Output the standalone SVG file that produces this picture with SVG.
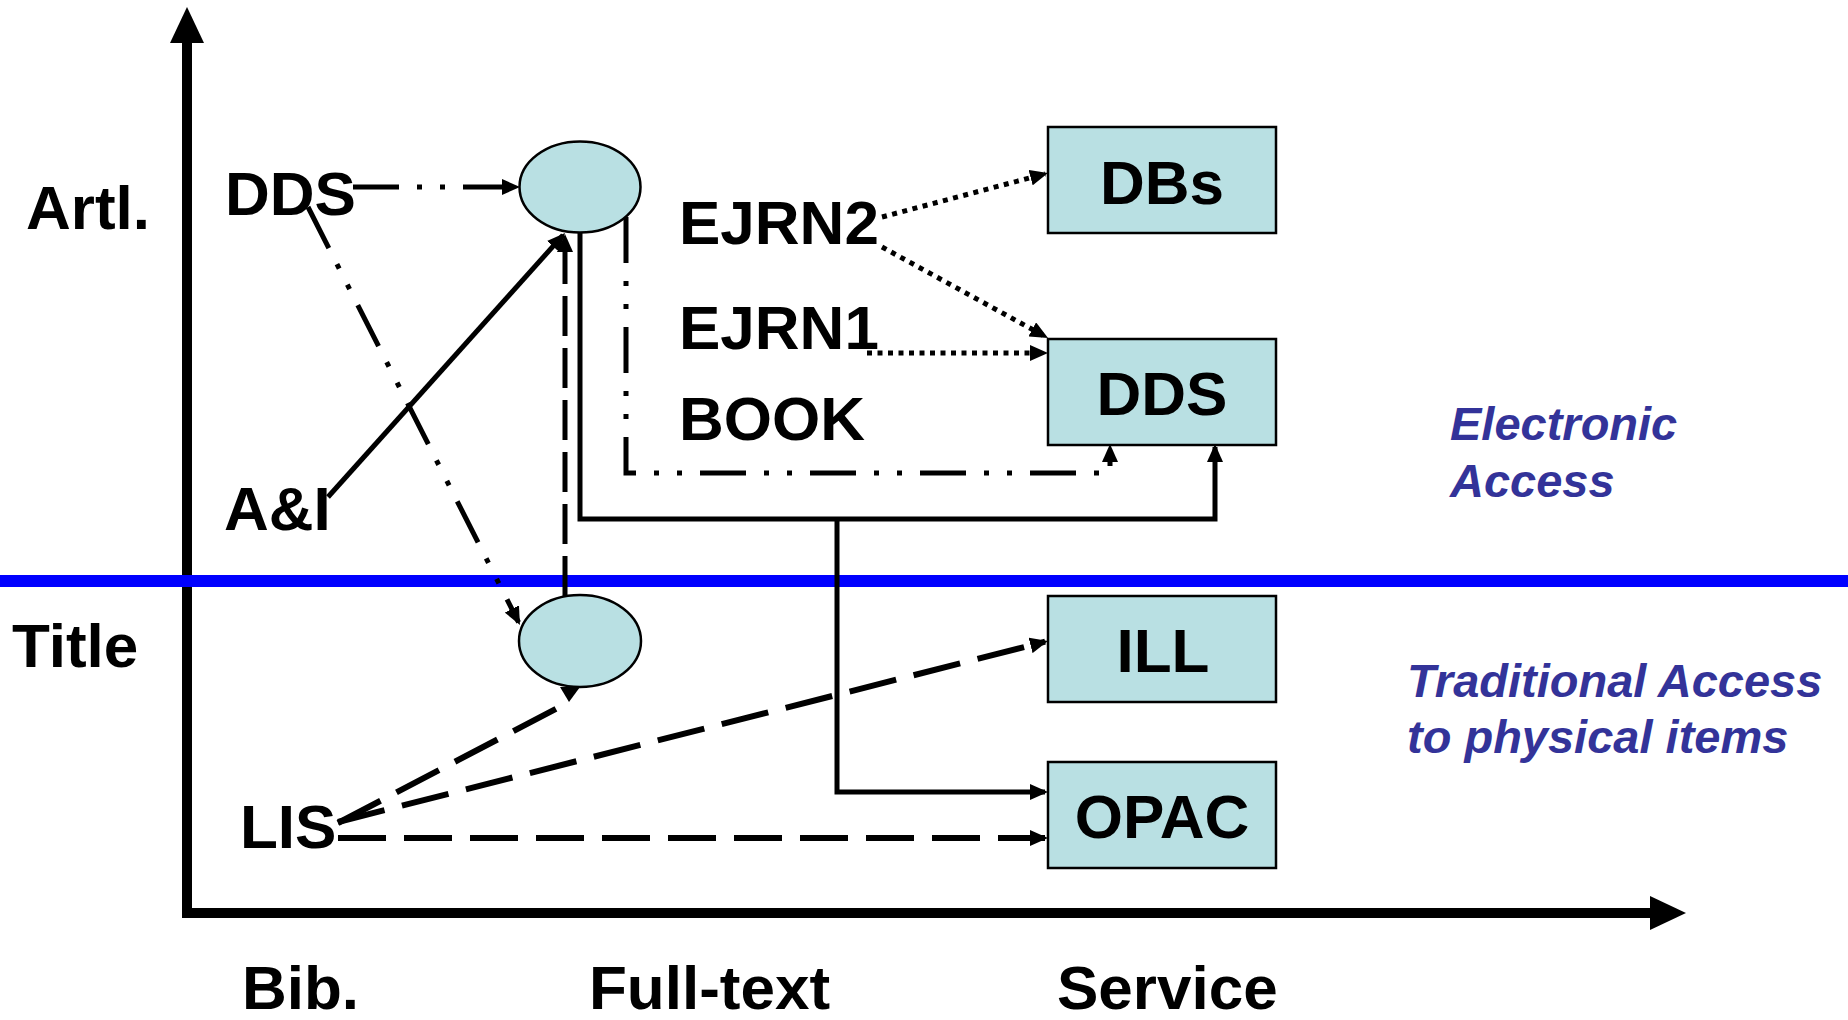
<svg xmlns="http://www.w3.org/2000/svg" width="1848" height="1020" viewBox="0 0 1848 1020">
<style>
.lbl{font-family:"Liberation Sans",Arial,sans-serif;font-weight:bold;font-size:62px;fill:#000}
.blue{font-family:"Liberation Sans",Arial,sans-serif;font-weight:bold;font-style:italic;font-size:47px;fill:#333399}
.node{fill:#B9E0E3;stroke:#000;stroke-width:2.5}
.c{fill:none;stroke:#000;stroke-width:5;stroke-linecap:butt;stroke-linejoin:miter}
.solid{}
.ddd{stroke-dasharray:46 18 5 18 5 18}
.dot{stroke-dasharray:5 5.5}
.dash{stroke-width:6;stroke-dasharray:48 18}
.vdash{stroke-dasharray:40 12}
</style>
<defs>
<marker id="arr" markerUnits="userSpaceOnUse" markerWidth="18" markerHeight="16" refX="15" refY="8" orient="auto">
<path d="M0,0 L18,8 L0,16 z" fill="#000"/>
</marker>
</defs>
<rect x="0" y="0" width="1848" height="1020" fill="#fff"/>
<g id="axes">
<polyline points="187,40 187,913 1652,913" fill="none" stroke="#000" stroke-width="10"/>
<polygon points="187,7 170,43 204,43" fill="#000"/>
<polygon points="1686,913 1650,896 1650,930" fill="#000"/>
</g>
<g id="divider">
<rect x="0" y="575" width="1848" height="12" fill="#0000FF"/>
</g>
<g id="connectors">
<line class="c ddd" x1="353" y1="187" x2="517" y2="187" marker-end="url(#arr)"/>
<line class="c ddd" x1="308" y1="207" x2="518.6" y2="622.3" marker-end="url(#arr)"/>
<line class="c solid" x1="328" y1="497" x2="563" y2="235.2" marker-end="url(#arr)"/>
<line class="c vdash" x1="565" y1="596" x2="565" y2="237" marker-end="url(#arr)"/>
<polyline class="c solid" points="580,232 580,519 1215,519 1215,447" marker-end="url(#arr)"/>
<polyline class="c solid" points="837,519 837,792 1045,792" marker-end="url(#arr)"/>
<polyline class="c ddd" points="626,217 626,473 1110,473 1110,447" marker-end="url(#arr)"/>
<line class="c dot" x1="882" y1="217" x2="1045.1" y2="173.8" marker-end="url(#arr)"/>
<line class="c dot" x1="882" y1="247" x2="1045.4" y2="336.6" marker-end="url(#arr)"/>
<line class="c dot" x1="867" y1="353" x2="1045" y2="353" marker-end="url(#arr)"/>
<line class="c dash" x1="338" y1="823" x2="569" y2="702"/>
<polygon points="560,687 580,687 569,702" fill="#000"/>
<line class="c dash" x1="338" y1="822" x2="1045.1" y2="641.7" marker-end="url(#arr)"/>
<line class="c dash" x1="338" y1="838" x2="1045" y2="838" marker-end="url(#arr)"/>
</g>
<g id="node-ellipse-article">
<ellipse class="node" cx="580" cy="187" rx="60.5" ry="45.5"/>
</g>
<g id="node-ellipse-title">
<ellipse class="node" cx="580" cy="641" rx="61" ry="46"/>
</g>
<g id="node-DBs">
<rect class="node" x="1048" y="127" width="228" height="106"/>
<text class="lbl" x="1162" y="204" text-anchor="middle">DBs</text>
</g>
<g id="node-DDS-box">
<rect class="node" x="1048" y="339" width="228" height="106"/>
<text class="lbl" x="1162" y="415" text-anchor="middle">DDS</text>
</g>
<g id="node-ILL">
<rect class="node" x="1048" y="596" width="228" height="106"/>
<text class="lbl" x="1163" y="672" text-anchor="middle">ILL</text>
</g>
<g id="node-OPAC">
<rect class="node" x="1048" y="762" width="228" height="106"/>
<text class="lbl" x="1162" y="838" text-anchor="middle">OPAC</text>
</g>
<g id="node-DDS"><text class="lbl" x="225" y="215">DDS</text></g>
<g id="node-AI"><text class="lbl" x="224" y="530">A&amp;I</text></g>
<g id="node-LIS"><text class="lbl" x="240" y="848">LIS</text></g>
<g id="node-EJRN2"><text class="lbl" x="679" y="244">EJRN2</text></g>
<g id="node-EJRN1"><text class="lbl" x="679" y="349">EJRN1</text></g>
<g id="node-BOOK"><text class="lbl" x="679" y="440">BOOK</text></g>
<g id="axis-labels">
<text class="lbl" x="26" y="229">Artl.</text>
<text class="lbl" x="12" y="667">Title</text>
<text class="lbl" x="242" y="1009">Bib.</text>
<text class="lbl" x="589" y="1009">Full-text</text>
<text class="lbl" x="1057" y="1009">Service</text>
</g>
<g id="region-labels">
<text class="blue" x="1450" y="440">Electronic</text>
<text class="blue" x="1450" y="497">Access</text>
<text class="blue" x="1407" y="697">Traditional Access</text>
<text class="blue" x="1407" y="753">to physical items</text>
</g>
</svg>
